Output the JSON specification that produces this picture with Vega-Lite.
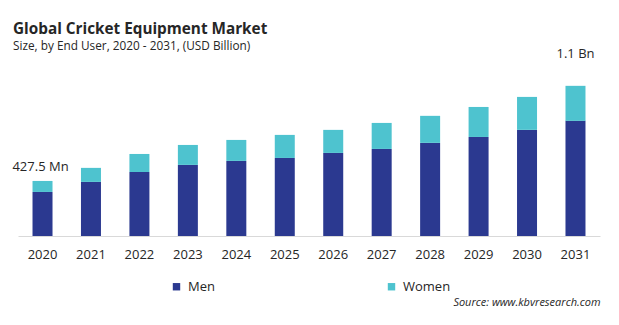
{
  "$schema": "https://vega.github.io/schema/vega-lite/v6.json",
  "width": 582,
  "height": 170,
  "autosize": {"type": "none"},
  "padding": {"left": 18, "top": 66, "right": 19, "bottom": 89},
  "background": "white",
  "config": {
    "font": "Open Sans",
    "view": {"stroke": null}
  },
  "title": {
    "text": "Global Cricket Equipment Market",
    "subtitle": "Size, by End User, 2020 - 2031, (USD Billion)",
    "anchor": "start",
    "frame": "group",
    "dx": -5,
    "dy": 19,
    "offset": 14,
    "fontSize": 15.3,
    "fontWeight": "bold",
    "color": "#262626",
    "subtitleFontSize": 11.8,
    "subtitleColor": "#262626",
    "subtitlePadding": 4
  },
  "data": {
    "values": [
      {"year": "2020", "gender": "Men", "value": 0.342},
      {"year": "2020", "gender": "Women", "value": 0.0855},
      {"year": "2021", "gender": "Men", "value": 0.420},
      {"year": "2021", "gender": "Women", "value": 0.109},
      {"year": "2022", "gender": "Men", "value": 0.497},
      {"year": "2022", "gender": "Women", "value": 0.140},
      {"year": "2023", "gender": "Men", "value": 0.552},
      {"year": "2023", "gender": "Women", "value": 0.155},
      {"year": "2024", "gender": "Men", "value": 0.583},
      {"year": "2024", "gender": "Women", "value": 0.163},
      {"year": "2025", "gender": "Men", "value": 0.606},
      {"year": "2025", "gender": "Women", "value": 0.179},
      {"year": "2026", "gender": "Men", "value": 0.645},
      {"year": "2026", "gender": "Women", "value": 0.179},
      {"year": "2027", "gender": "Men", "value": 0.676},
      {"year": "2027", "gender": "Women", "value": 0.202},
      {"year": "2028", "gender": "Men", "value": 0.723},
      {"year": "2028", "gender": "Women", "value": 0.210},
      {"year": "2029", "gender": "Men", "value": 0.769},
      {"year": "2029", "gender": "Women", "value": 0.233},
      {"year": "2030", "gender": "Men", "value": 0.824},
      {"year": "2030", "gender": "Women", "value": 0.256},
      {"year": "2031", "gender": "Men", "value": 0.894},
      {"year": "2031", "gender": "Women", "value": 0.272}
    ]
  },
  "layer": [
    {
      "mark": {"type": "bar", "width": 20},
      "encoding": {
        "x": {
          "field": "year",
          "type": "ordinal",
          "scale": {"paddingInner": 0.588, "paddingOuter": 0.3},
          "axis": {
            "title": "Source: www.kbvresearch.com",
            "titleAnchor": "end",
            "titleAlign": "right",
            "titleFontStyle": "italic",
            "titleFontWeight": "normal",
            "titleFontSize": 11,
            "titleColor": "#262626",
            "titlePadding": 35,
            "labelAngle": 0,
            "labelFontSize": 13,
            "labelColor": "#262626",
            "labelPadding": 12,
            "ticks": false,
            "domainColor": "#d9d9d9",
            "domainWidth": 1
          }
        },
        "y": {
          "field": "value",
          "type": "quantitative",
          "stack": "zero",
          "scale": {"domain": [0, 1.32], "nice": false},
          "axis": null
        },
        "color": {
          "field": "gender",
          "type": "nominal",
          "scale": {"domain": ["Men", "Women"], "range": ["#2b3990", "#4ec3cf"]},
          "legend": {
            "title": null,
            "orient": "none",
            "legendX": 152,
            "legendY": 214,
            "direction": "horizontal",
            "columns": 2,
            "columnPadding": 170,
            "symbolType": "square",
            "symbolSize": 55,
            "symbolStrokeWidth": 0,
            "labelFontSize": 13,
            "labelColor": "#262626",
            "labelOffset": 5
          }
        },
        "order": {"field": "gender", "sort": "ascending"}
      }
    },
    {
      "data": {"values": [{"year": "2020", "total": 0.4275, "label": "427.5 Mn"}]},
      "mark": {"type": "text", "fontSize": 13, "color": "#262626", "baseline": "middle", "dy": -14, "dx": -2},
      "encoding": {
        "x": {"field": "year", "type": "ordinal"},
        "y": {"field": "total", "type": "quantitative"},
        "text": {"field": "label"}
      }
    },
    {
      "data": {"values": [{"year": "2031", "total": 1.166, "label": "1.1 Bn"}]},
      "mark": {"type": "text", "fontSize": 13, "color": "#262626", "baseline": "middle", "dy": -32},
      "encoding": {
        "x": {"field": "year", "type": "ordinal"},
        "y": {"field": "total", "type": "quantitative"},
        "text": {"field": "label"}
      }
    }
  ]
}
